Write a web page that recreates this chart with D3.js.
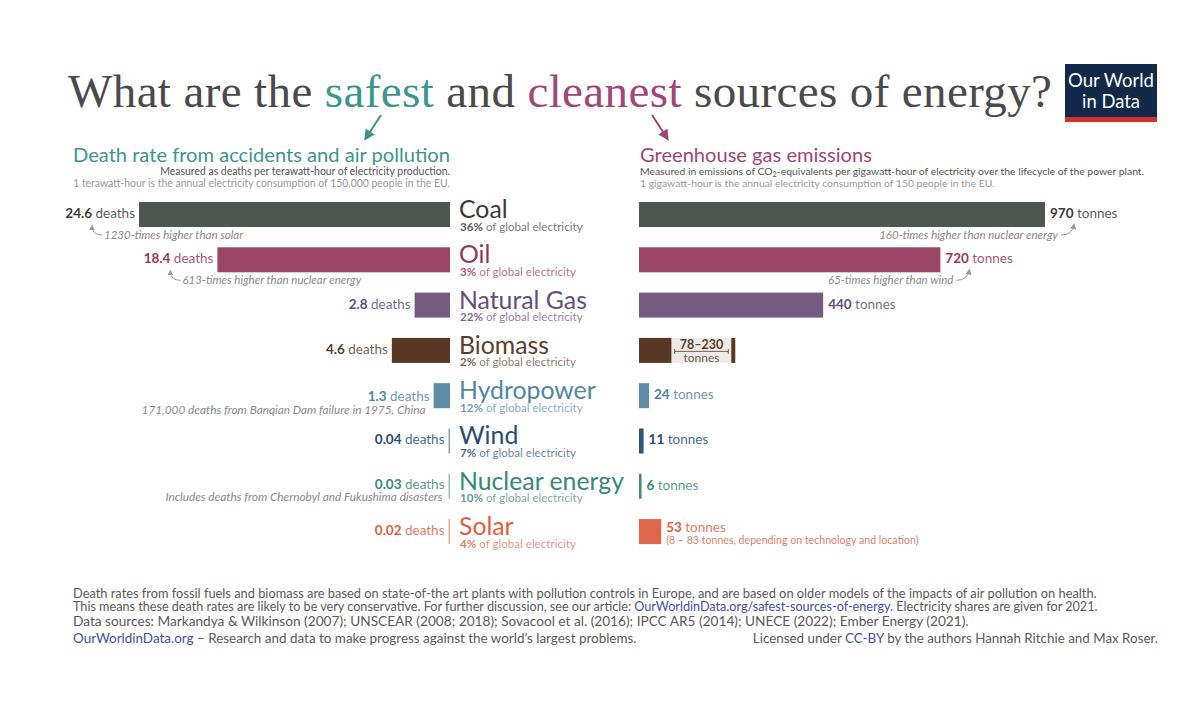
<!DOCTYPE html>
<html><head><meta charset="utf-8">
<script src="https://cdn.jsdelivr.net/npm/d3@7"></script>
<style>
body{margin:0;background:#fff;}
svg{display:block;}
</style></head><body>
<svg id="chart" width="1200" height="719"></svg>
<script>
// ---------- DATA ----------
const sources = ["Coal","Oil","Natural Gas","Biomass","Hydropower","Wind","Nuclear energy","Solar"];
const deathRates = [24.6, 18.4, 2.8, 4.6, 1.3, 0.04, 0.03, 0.02];          // deaths per TWh
const emissions = [970, 720, 440, 78, 24, 11, 6, 53];                      // tonnes CO2eq per GWh
const biomassEmissionsRange = [78, 230];
const electricityShares = [36, 3, 22, 2, 12, 7, 10, 4];                    // % of global electricity
const deathNotes = ["1230-times higher than solar","613-times higher than nuclear energy","","",
  "171,000 deaths from Banqian Dam failure in 1975, China","","Includes deaths from Chernobyl and Fukushima disasters",""];
const emissionNotes = ["160-times higher than nuclear energy","65-times higher than wind","","","","","",
  "(8 – 83 tonnes, depending on technology and location)"];
const barColors  = ["#4b5750","#9b4665","#755a82","#583723","#5e8ca7","#2e5478","#3b8e7e","#e0664b"];
const textColors = ["#3a3a3a","#94365a","#664c7c","#5a3f2c","#4f86a2","#284d70","#35887a","#dd5f45"];
const titleSegments = ["What are the ","safest"," and ","cleanest"," sources of energy?"];
const footerLines = [
  ["Death rates from fossil fuels and biomass are based on state-of-the art plants with pollution controls in Europe, and are based on older models of the impacts of air pollution on health."],
  ["This means these death rates are likely to be very conservative. For further discussion, see our article: ","OurWorldinData.org/safest-sources-of-energy",". Electricity shares are given for 2021."],
  ["Data sources: Markandya & Wilkinson (2007); UNSCEAR (2008; 2018); Sovacool et al. (2016); IPCC AR5 (2014); UNECE (2022); Ember Energy (2021)."],
  ["","OurWorldinData.org"," – Research and data to make progress against the world’s largest problems."]
];
const licenseLine = ["Licensed under ","CC-BY"," by the authors Hannah Ritchie and Max Roser."];

// ---------- SETUP ----------
const TEAL = "#3d968b", MAG = "#a0467b", LINK = "#3f51a3";
const SANS = 'Lato, "Open Sans", "DejaVu Sans", sans-serif';
const svg = d3.select("#chart");
svg.append("rect").attr("width",1200).attr("height",719).attr("fill","#fff");
const defs = svg.append("defs");
function marker(id, color, size){
  defs.append("marker").attr("id",id).attr("viewBox","0 0 10 10")
    .attr("refX",7).attr("refY",5).attr("markerWidth",size).attr("markerHeight",size)
    .attr("orient","auto").append("path").attr("d","M0,0 L10,5 L0,10 z").attr("fill",color);
}
marker("arT",TEAL,5.5); marker("arM",MAG,5.5); marker("arG","#9a9a9a",6);

function fitWidth(sel, w){
  const cur = sel.node().getBBox().width;
  const fs = parseFloat(sel.attr("font-size"));
  sel.attr("font-size", fs * w / cur);
  return sel;
}

// ---------- TITLE ----------
const titleColors = ["#4a4a4a", TEAL, "#4a4a4a", MAG, "#4a4a4a"];
const title = svg.append("text").attr("x",68).attr("y",107)
  .attr("font-family",'"Liberation Serif", "DejaVu Serif", serif')
  .attr("font-size",47).attr("fill","#4a4a4a");
titleSegments.forEach((t,i)=> title.append("tspan").text(t).attr("fill",titleColors[i]));
{
  const w = title.node().getComputedTextLength();
  const n = titleSegments.join("").length;
  title.attr("letter-spacing", (984 - w) / (n - 1));
}
svg.append("line").attr("x1",381).attr("y1",115).attr("x2",366).attr("y2",138)
  .attr("stroke",TEAL).attr("stroke-width",2).attr("marker-end","url(#arT)");
svg.append("line").attr("x1",652).attr("y1",115).attr("x2",667).attr("y2",138)
  .attr("stroke",MAG).attr("stroke-width",2).attr("marker-end","url(#arM)");

// logo
const logo = svg.append("g");
logo.append("rect").attr("x",1065).attr("y",64).attr("width",92).attr("height",54).attr("fill","#12294a");
logo.append("rect").attr("x",1065).attr("y",117).attr("width",92).attr("height",5).attr("fill","#d1322b");
fitWidth(logo.append("text").attr("x",1111).attr("y",87).attr("text-anchor","middle")
  .attr("font-family",SANS).attr("font-size",18).attr("fill","#fff").text("Our World"), 86);
fitWidth(logo.append("text").attr("x",1111).attr("y",108).attr("text-anchor","middle")
  .attr("font-family",SANS).attr("font-size",18).attr("fill","#fff").text("in Data"), 58);

// ---------- PANEL HEADERS ----------
fitWidth(svg.append("text").attr("x",73).attr("y",162).attr("font-family",SANS).attr("font-size",19.5)
  .attr("fill",TEAL).text("Death rate from accidents and air pollution"), 377);
fitWidth(svg.append("text").attr("x",450).attr("y",175).attr("text-anchor","end").attr("font-family",SANS)
  .attr("font-size",10).attr("fill","#555").text("Measured as deaths per terawatt-hour of electricity production."), 290);
fitWidth(svg.append("text").attr("x",450).attr("y",187).attr("text-anchor","end").attr("font-family",SANS)
  .attr("font-size",10).attr("fill","#9a9a9a").text("1 terawatt-hour is the annual electricity consumption of 150,000 people in the EU."), 377);

fitWidth(svg.append("text").attr("x",640).attr("y",162).attr("font-family",SANS).attr("font-size",19.5)
  .attr("fill",MAG).text("Greenhouse gas emissions"), 232);
{
  const t = svg.append("text").attr("x",640).attr("y",175).attr("font-family",SANS).attr("font-size",10).attr("fill","#555");
  t.append("tspan").text("Measured in emissions of CO");
  t.append("tspan").text("2").attr("font-size","70%").attr("dy",2);
  t.append("tspan").text("-equivalents per gigawatt-hour of electricity over the lifecycle of the power plant.").attr("dy",-2);
  fitWidth(t, 505);
}
fitWidth(svg.append("text").attr("x",640).attr("y",187).attr("font-family",SANS)
  .attr("font-size",10).attr("fill","#9a9a9a").text("1 gigawatt-hour is the annual electricity consumption of 150 people in the EU."), 355);

// ---------- SCALES ----------
const y = d3.scaleBand().domain(sources).range([202, 544.1]).paddingInner(0.448).paddingOuter(0);
const xL = d3.scaleLinear().domain([0, d3.max(deathRates)]).range([450, 139]);
const xR = d3.scaleLinear().domain([0, d3.max(emissions)]).range([639, 1045]);
const bh = y.bandwidth();
const rows = sources.map((s,i)=>({s, i, d:deathRates[i], e:emissions[i], share:electricityShares[i]}));

// ---------- LEFT BARS ----------
const left = svg.append("g").attr("font-family",SANS);
left.selectAll("rect.bar").data(rows).join("rect").attr("class","bar")
  .attr("x", r => Math.min(xL(r.d), xL(0) - 1.5))
  .attr("y", r => y(r.s))
  .attr("width", r => Math.max(xL(0) - xL(r.d), 1.5))
  .attr("height", bh)
  .attr("fill", r => barColors[r.i])
  .attr("opacity", r => (xL(0) - xL(r.d)) < 1.5 ? 0.55 : 1);

rows.forEach(r => {
  const bx = Math.min(xL(r.d), xL(0) - 1.5);
  const off = r.i === 4 ? 18 : (r.i === 6 ? 15 : 16);
  const t = left.append("text").attr("x", bx - 4).attr("y", y(r.s) + off)
    .attr("text-anchor","end").attr("font-size",13.5).attr("fill",textColors[r.i]);
  t.append("tspan").attr("font-weight",700).text(r.d);
  t.append("tspan").attr("fill-opacity",0.85).text(" deaths");
  const note = deathNotes[r.i];
  if (!note) return;
  if (r.i < 2) {
    const nx = xL(r.d) - 35, ny = y(r.s) + 37;
    left.append("text").attr("x",nx).attr("y",ny).attr("font-size",11.5).attr("font-style","italic")
      .attr("fill","#8a8a8a").text(note);
    left.append("path").attr("d",`M${nx-2},${ny-4} Q${nx-12},${ny-4} ${nx-12},${ny-13}`)
      .attr("fill","none").attr("stroke","#9a9a9a").attr("stroke-width",1).attr("marker-end","url(#arG)");
  } else {
    const ny = y(r.s) + (r.i === 4 ? 31 : 27);
    left.append("text").attr("x", bx - (r.i === 4 ? 8 : 6)).attr("y", ny).attr("text-anchor","end")
      .attr("font-size",11.8).attr("font-style","italic").attr("fill","#8a8a8a").text(note);
  }
});

// ---------- MIDDLE LABELS ----------
const mid = svg.append("g").attr("font-family",SANS);
rows.forEach(r => {
  mid.append("text").attr("x",459).attr("y",y(r.s)+16).attr("font-size",24.8)
    .attr("fill",textColors[r.i]).text(r.s);
  const t = mid.append("text").attr("x",460).attr("y",y(r.s)+28.5).attr("font-size",11.6)
    .attr("fill",textColors[r.i]);
  t.append("tspan").attr("font-weight",700).attr("fill-opacity",0.85).text(r.share + "%");
  t.append("tspan").attr("fill-opacity",0.7).text(" of global electricity");
});

// ---------- RIGHT BARS ----------
const right = svg.append("g").attr("font-family",SANS);
right.selectAll("rect.bar").data(rows).join("rect").attr("class","bar")
  .attr("x", xR(0))
  .attr("y", r => y(r.s))
  .attr("width", r => Math.max(xR(r.e) - xR(0), 2.5))
  .attr("height", bh)
  .attr("fill", r => barColors[r.i]);

rows.forEach(r => {
  if (r.i === 3) {
    const [lo, hi] = biomassEmissionsRange;
    const top = y(r.s);
    right.append("rect").attr("x",xR(lo)).attr("y",top).attr("width",xR(hi)-xR(lo)-4).attr("height",bh).attr("fill","#eeeae7");
    right.append("rect").attr("x",xR(hi)-4).attr("y",top).attr("width",4).attr("height",bh).attr("fill",barColors[3]);
    const cx = (xR(lo) + xR(hi) - 4) / 2;
    right.append("text").attr("x",cx).attr("y",top+11).attr("text-anchor","middle").attr("font-size",12.5)
      .attr("font-weight",700).attr("fill",textColors[3]).text(lo + "–" + hi);
    const x1 = xR(lo) + 3, x2 = xR(hi) - 7, ly = top + 13.5;
    right.append("path").attr("d",`M${x1},${ly} H${x2} M${x1},${ly-2.5} V${ly+2.5} M${x2},${ly-2.5} V${ly+2.5}`)
      .attr("stroke",textColors[3]).attr("stroke-width",0.8).attr("fill","none");
    right.append("text").attr("x",cx).attr("y",top+24).attr("text-anchor","middle").attr("font-size",12)
      .attr("fill",textColors[3]).attr("fill-opacity",0.85).text("tonnes");
    return;
  }
  const bx = xR(0) + Math.max(xR(r.e) - xR(0), 2.5);
  const off = r.i === 7 ? 13 : 16;
  const t = right.append("text").attr("x", bx + 5).attr("y", y(r.s) + off)
    .attr("font-size",13.5).attr("fill",textColors[r.i]);
  t.append("tspan").attr("font-weight",700).text(r.e);
  t.append("tspan").attr("fill-opacity",0.85).text(" tonnes");
  const note = emissionNotes[r.i];
  if (!note) return;
  if (r.i < 2) {
    const ne = xR(r.e) + 13, ny = y(r.s) + 37;
    right.append("text").attr("x",ne).attr("y",ny).attr("text-anchor","end").attr("font-size",11.5)
      .attr("font-style","italic").attr("fill","#8a8a8a").text(note);
    right.append("path").attr("d",`M${ne+3},${ny-4} Q${ne+14},${ny-4} ${ne+16},${ny-14}`)
      .attr("fill","none").attr("stroke","#9a9a9a").attr("stroke-width",1).attr("marker-end","url(#arG)");
  } else {
    right.append("text").attr("x", bx + 5).attr("y", y(r.s) + 24.5).attr("font-size",10.6)
      .attr("fill",textColors[r.i]).attr("fill-opacity",0.85).text(note);
  }
});

// ---------- FOOTER ----------
const foot = svg.append("g").attr("font-family",SANS).attr("fill","#5a5a5a");
const footY = [598, 611, 626, 643];
const footW = [1024, 1026, 897, 564];
footerLines.forEach((parts, k) => {
  const t = foot.append("text").attr("x",73).attr("y",footY[k]).attr("font-size",12);
  parts.forEach((p, j) => { if (p) t.append("tspan").text(p).attr("fill", j === 1 ? LINK : null); });
  fitWidth(t, footW[k]);
});
{
  const t = foot.append("text").attr("x",1158).attr("y",footY[3]).attr("font-size",12).attr("text-anchor","end");
  licenseLine.forEach((p, j) => t.append("tspan").text(p).attr("fill", j === 1 ? LINK : null));
  fitWidth(t, 406);
}
</script>
</body></html>
